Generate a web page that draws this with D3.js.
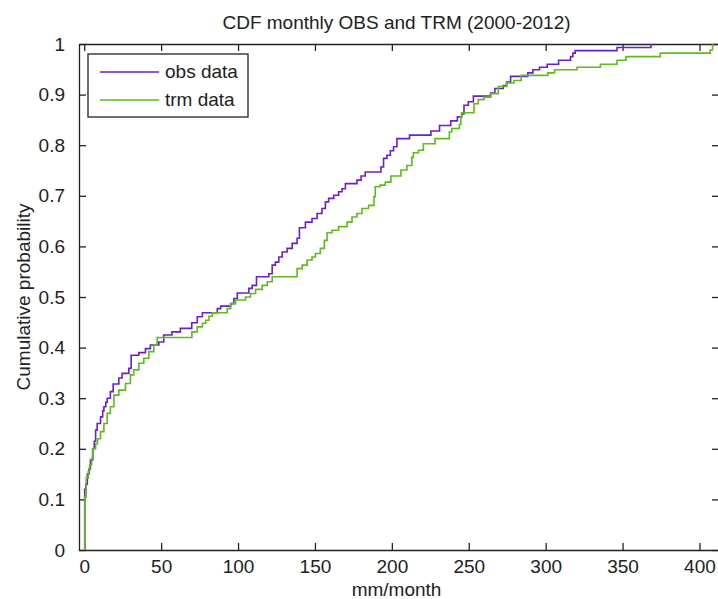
<!DOCTYPE html>
<html>
<head>
<meta charset="utf-8">
<script src="https://cdn.jsdelivr.net/npm/d3@7"></script>
<style>
  body { margin: 0; background: #fff; }
  svg text { font-family: "Liberation Sans", Arial, sans-serif; fill: #222; }
</style>
</head>
<body>
<div id="chart"></div>
<script>
const width = 718;
const height = 599;

// CDF breakpoints: value (mm/month) and probability after the step
const obsX = [0.3, 0.3, 1.0, 2.0, 3.1, 4.0, 5.6, 6.5, 7.4, 8.4, 10.6, 12.0, 12.8, 14.0, 14.9, 17, 18.8, 22.5, 24.6, 29, 30.5, 35.5, 39.8, 43, 48.5, 51.7, 57, 62.5, 69.9, 73.5, 76.8, 86.5, 88.7, 95.2, 97.3, 99.5, 107, 109.2, 112, 120, 122.2, 124.3, 126.5, 128.7, 131.9, 135.2, 138.4, 139.9, 143.8, 148.1, 151.4, 154.6, 156.8, 158.9, 162.2, 165.4, 167.6, 169.8, 177.3, 180, 182.7, 192.9, 194.6, 196.8, 199, 201.1, 203.3, 211.5, 225.4, 231, 238.3, 242.6, 245.4, 246.9, 249.7, 253, 264.2, 267, 272.4, 274.6, 277.2, 288.4, 291.7, 296, 301, 308.4, 316.2, 317.7, 319.2, 346.4, 368.5];
const obsP = [0, 0.12, 0.13, 0.15, 0.16, 0.178, 0.2, 0.215, 0.237, 0.25, 0.263, 0.275, 0.283, 0.292, 0.3, 0.313, 0.328, 0.34, 0.349, 0.359, 0.385, 0.39, 0.398, 0.405, 0.411, 0.425, 0.431, 0.438, 0.449, 0.461, 0.469, 0.477, 0.482, 0.487, 0.497, 0.508, 0.517, 0.523, 0.54, 0.546, 0.563, 0.569, 0.579, 0.589, 0.596, 0.606, 0.616, 0.637, 0.648, 0.655, 0.665, 0.675, 0.688, 0.695, 0.701, 0.708, 0.714, 0.724, 0.731, 0.739, 0.747, 0.757, 0.774, 0.78, 0.789, 0.797, 0.813, 0.82, 0.828, 0.839, 0.848, 0.856, 0.862, 0.879, 0.886, 0.897, 0.903, 0.912, 0.918, 0.925, 0.936, 0.943, 0.949, 0.954, 0.96, 0.968, 0.975, 0.982, 0.987, 0.993, 1.0];

const trmX = [0.4, 0.4, 1.3, 2.6, 3.5, 4.8, 5.4, 7.4, 8.6, 10.6, 12.8, 14.9, 17, 19.3, 22.5, 26.8, 30, 32.2, 35.5, 38.7, 42, 45.2, 47.4, 70, 73.5, 76.8, 79, 81.1, 83.3, 93, 95.2, 98.4, 104.9, 108.1, 111.4, 115.7, 119, 122.2, 138.4, 141.7, 144.9, 148.1, 150.3, 153.5, 156.1, 157.9, 161.1, 165.4, 170.9, 174.1, 177.3, 180.6, 184.9, 188.4, 189.2, 192.4, 195.7, 199.4, 205.9, 209.8, 213, 214, 217.3, 220.5, 228.1, 237.4, 238.9, 243.9, 244.8, 245.4, 253.4, 256.2, 259.9, 264.2, 269.2, 274.6, 279.4, 284.1, 301.4, 305.8, 320.4, 335.6, 346.4, 352.2, 374.5, 407, 408.5];
const trmP = [0, 0.105, 0.142, 0.155, 0.168, 0.181, 0.2, 0.21, 0.22, 0.234, 0.25, 0.27, 0.283, 0.306, 0.316, 0.329, 0.346, 0.356, 0.369, 0.379, 0.392, 0.405, 0.42, 0.431, 0.441, 0.448, 0.454, 0.462, 0.469, 0.477, 0.487, 0.494, 0.5, 0.507, 0.515, 0.523, 0.53, 0.54, 0.556, 0.563, 0.573, 0.579, 0.586, 0.596, 0.612, 0.627, 0.632, 0.639, 0.648, 0.658, 0.665, 0.675, 0.681, 0.698, 0.718, 0.721, 0.727, 0.739, 0.751, 0.76, 0.776, 0.785, 0.79, 0.803, 0.813, 0.826, 0.833, 0.841, 0.856, 0.864, 0.882, 0.89, 0.895, 0.902, 0.916, 0.923, 0.928, 0.938, 0.943, 0.949, 0.954, 0.96, 0.968, 0.975, 0.982, 0.988, 1.0];

const xTicks = [0, 50, 100, 150, 200, 250, 300, 350, 400];
const yTicks = [0, 0.1, 0.2, 0.3, 0.4, 0.5, 0.6, 0.7, 0.8, 0.9, 1];
const seriesNames = ["obs data", "trm data"];
const seriesColors = ["#6a1fd1", "#5dbb1c"];

const fontSize = 19;
const margin = { left: 79, right: -1, top: 44, bottom: 49 };
const x = d3.scaleLinear().domain([-3.4, 412.7]).range([margin.left, width - margin.right]);
const y = d3.scaleLinear().domain([0, 1]).range([height - margin.bottom, margin.top]);

const svg = d3.select("#chart").append("svg")
    .attr("width", width)
    .attr("height", height);

const tickLen = 7;
const fmt = (d) => (d === 0 || d === 1 ? String(d) : d3.format(".1f")(d));

// bottom axis with labels, top axis mirrored ticks
svg.append("g")
    .attr("transform", `translate(0,${y(0)})`)
    .call(d3.axisBottom(x).tickValues(xTicks).tickSizeInner(-tickLen).tickSizeOuter(0).tickPadding(10))
    .call((g) => g.selectAll("text").attr("font-size", fontSize));
svg.append("g")
    .attr("transform", `translate(0,${y(1)})`)
    .call(d3.axisTop(x).tickValues(xTicks).tickSizeInner(-tickLen).tickSizeOuter(0).tickFormat(""));

svg.append("g")
    .attr("transform", `translate(${x.range()[0]},0)`)
    .call(d3.axisLeft(y).tickValues(yTicks).tickSizeInner(-tickLen).tickSizeOuter(0).tickPadding(14).tickFormat(fmt))
    .call((g) => g.selectAll("text").attr("font-size", fontSize));
svg.append("g")
    .attr("transform", `translate(${x.range()[1]},0)`)
    .call(d3.axisRight(y).tickValues(yTicks).tickSizeInner(-tickLen).tickSizeOuter(0).tickFormat(""));

svg.selectAll(".domain, .tick line").attr("stroke", "#222").attr("stroke-width", 1.3);
svg.selectAll(".tick text").attr("fill", "#222");

const line = d3.line()
    .x((d) => x(d[0]))
    .y((d) => y(d[1]))
    .curve(d3.curveStepAfter);

const series = [d3.zip(obsX, obsP), d3.zip(trmX, trmP)];

svg.append("g")
    .selectAll("path")
    .data(series)
    .join("path")
    .attr("fill", "none")
    .attr("stroke", (d, i) => seriesColors[i])
    .attr("stroke-width", 1.6)
    .attr("d", line);

// title and labels
svg.append("text")
    .attr("x", (x.range()[0] + 714) / 2)
    .attr("y", 29)
    .attr("text-anchor", "middle")
    .attr("font-size", fontSize)
    .text("CDF monthly OBS and TRM (2000-2012)");

svg.append("text")
    .attr("x", (x.range()[0] + 714) / 2)
    .attr("y", 596)
    .attr("text-anchor", "middle")
    .attr("font-size", fontSize)
    .text("mm/month");

svg.append("text")
    .attr("transform", `translate(30,${(y(0) + y(1)) / 2}) rotate(-90)`)
    .attr("text-anchor", "middle")
    .attr("font-size", fontSize)
    .text("Cumulative probability");

// legend
const legend = svg.append("g").attr("transform", "translate(88,54)");
legend.append("rect")
    .attr("width", 160)
    .attr("height", 63)
    .attr("fill", "#fff")
    .attr("stroke", "#222")
    .attr("stroke-width", 1.3);

const item = legend.selectAll("g.item")
    .data(seriesNames)
    .join("g")
    .attr("class", "item")
    .attr("transform", (d, i) => `translate(0,${18 + i * 28})`);
item.append("line")
    .attr("x1", 12)
    .attr("x2", 71)
    .attr("stroke", (d, i) => seriesColors[i])
    .attr("stroke-width", 1.6);
item.append("text")
    .attr("x", 77)
    .attr("y", 6)
    .attr("font-size", fontSize)
    .text((d) => d);
</script>
</body>
</html>
